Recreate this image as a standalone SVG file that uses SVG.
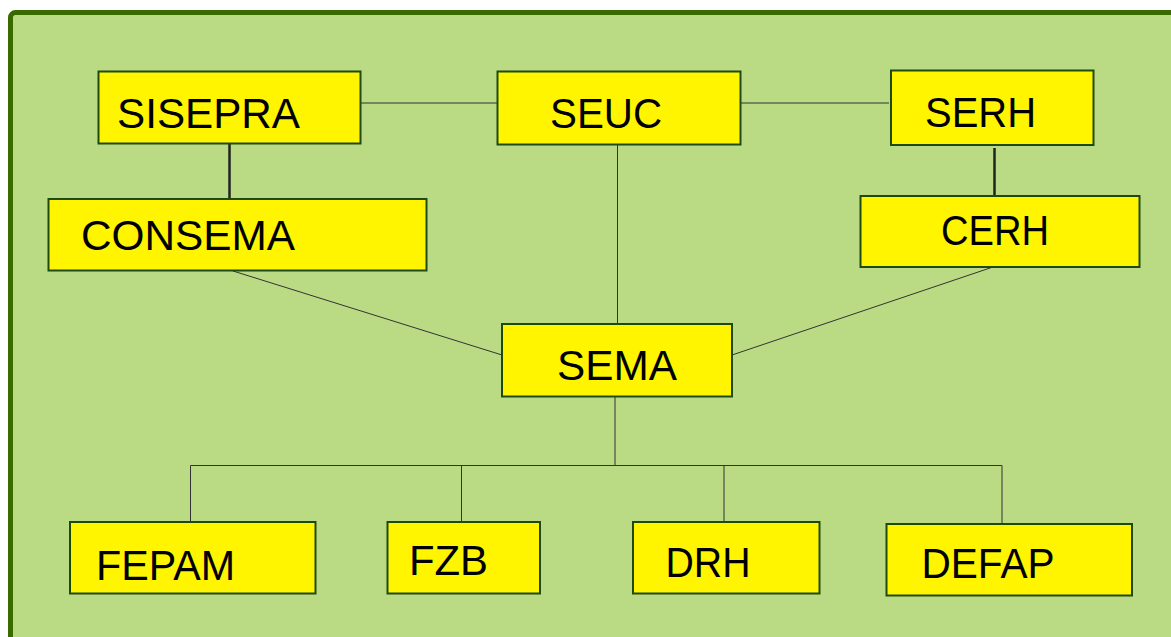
<svg xmlns="http://www.w3.org/2000/svg" width="1171" height="637" viewBox="0 0 1171 637">
<style>
.box{fill:#fff500;stroke:#1e4a10;stroke-width:2}
.lbl{font-family:"Liberation Sans",Arial,sans-serif;font-size:42px;fill:#000}
.thin{stroke:#333;stroke-width:1;fill:none}
.thick{stroke:#222;stroke-width:2.5;fill:none}
</style>
<rect x="0" y="0" width="1171" height="637" fill="#ffffff"/>
<rect x="10.5" y="12.5" width="1180" height="650" rx="5" fill="#bada84" stroke="#386a00" stroke-width="5"/>
<g id="connectors">
<line class="thin" x1="361" y1="103" x2="497" y2="103"/>
<line class="thin" x1="740" y1="103" x2="889" y2="103"/>
<line class="thick" x1="229.5" y1="144" x2="229.5" y2="199"/>
<line class="thick" x1="994.5" y1="148" x2="994.5" y2="196"/>
<line class="thin" x1="617.5" y1="145" x2="617.5" y2="324"/>
<line class="thin" x1="233" y1="271" x2="502" y2="355"/>
<line class="thin" x1="993" y1="267" x2="732" y2="355"/>
<line class="thin" x1="615" y1="397" x2="615" y2="465.5"/>
<line class="thin" x1="190.5" y1="465.5" x2="1002" y2="465.5"/>
<line class="thin" x1="190.5" y1="465.5" x2="190.5" y2="522"/>
<line class="thin" x1="461.5" y1="465.5" x2="461.5" y2="522"/>
<line class="thin" x1="724" y1="465.5" x2="724" y2="522"/>
<line class="thin" x1="1002" y1="465.5" x2="1002" y2="524"/>
</g>
<g id="sisepra"><rect class="box" x="98.5" y="71.5" width="262" height="72"/><text class="lbl" x="117" y="128" textLength="183" lengthAdjust="spacingAndGlyphs">SISEPRA</text></g>
<g id="seuc"><rect class="box" x="497.5" y="71.5" width="243" height="73"/><text class="lbl" x="550" y="128" textLength="112" lengthAdjust="spacingAndGlyphs">SEUC</text></g>
<g id="serh"><rect class="box" x="891" y="70.5" width="202.5" height="74.5"/><text class="lbl" x="925" y="127" textLength="111" lengthAdjust="spacingAndGlyphs">SERH</text></g>
<g id="consema"><rect class="box" x="48.5" y="199" width="378" height="71.5"/><text class="lbl" x="81" y="250" textLength="214" lengthAdjust="spacingAndGlyphs">CONSEMA</text></g>
<g id="cerh"><rect class="box" x="860.5" y="196" width="279" height="71"/><text class="lbl" x="941" y="245" textLength="108" lengthAdjust="spacingAndGlyphs">CERH</text></g>
<g id="sema"><rect class="box" x="502" y="324" width="230" height="72.5"/><text class="lbl" x="557" y="380" textLength="120" lengthAdjust="spacingAndGlyphs">SEMA</text></g>
<g id="fepam"><rect class="box" x="70" y="522" width="245.5" height="71.5"/><text class="lbl" x="96" y="580" textLength="139" lengthAdjust="spacingAndGlyphs">FEPAM</text></g>
<g id="fzb"><rect class="box" x="387.5" y="522" width="152.5" height="71.5"/><text class="lbl" x="409" y="575" textLength="79" lengthAdjust="spacingAndGlyphs">FZB</text></g>
<g id="drh"><rect class="box" x="633" y="522" width="186.5" height="71.5"/><text class="lbl" x="665.5" y="577" textLength="85" lengthAdjust="spacingAndGlyphs">DRH</text></g>
<g id="defap"><rect class="box" x="886.5" y="524" width="245.5" height="71.5"/><text class="lbl" x="921.5" y="578" textLength="133" lengthAdjust="spacingAndGlyphs">DEFAP</text></g>
</svg>
